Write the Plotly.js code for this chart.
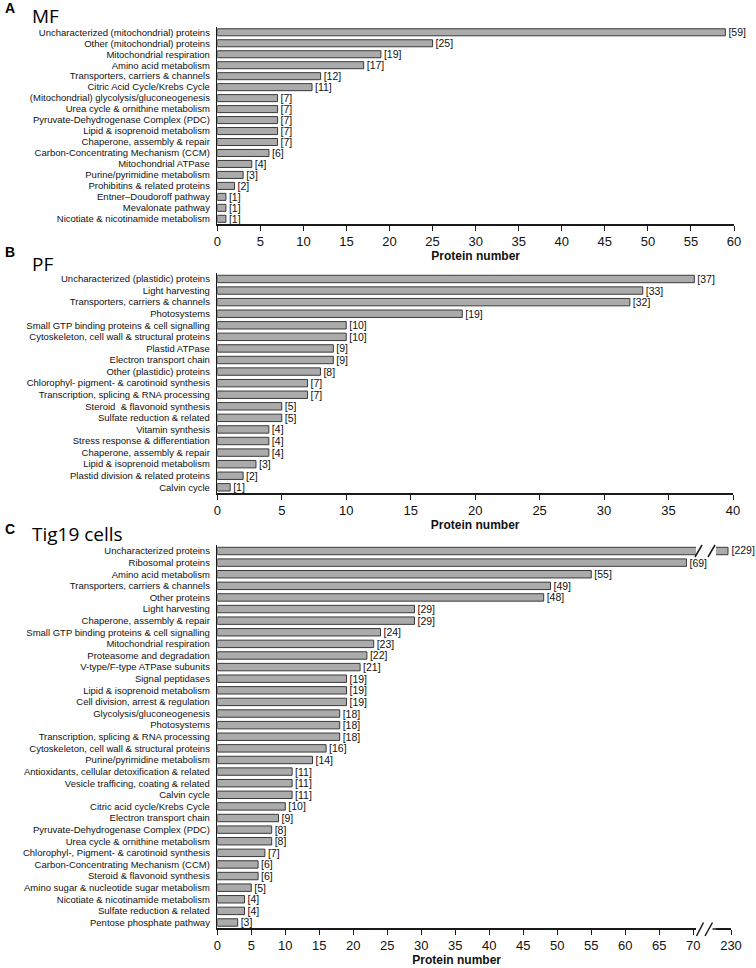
<!DOCTYPE html>
<html><head><meta charset="utf-8">
<script src="https://cdn.plot.ly/plotly-3.0.1.min.js"></script>
<style>html,body{margin:0;padding:0;background:#fff}#chart{width:756px;height:968px}</style>
</head><body><div id="chart"></div>
<script>
// ---------- DATA ----------
const catsMF = [
  "Uncharacterized (mitochondrial) proteins","Other (mitochondrial) proteins","Mitochondrial respiration",
  "Amino acid metabolism","Transporters, carriers & channels","Citric Acid Cycle/Krebs Cycle",
  "(Mitochondrial) glycolysis/gluconeogenesis","Urea cycle & ornithine metabolism",
  "Pyruvate-Dehydrogenase Complex (PDC)","Lipid & isoprenoid metabolism","Chaperone, assembly & repair",
  "Carbon-Concentrating Mechanism (CCM)","Mitochondrial ATPase","Purine/pyrimidine metabolism",
  "Prohibitins & related proteins","Entner\u2013Doudoroff pathway","Mevalonate pathway",
  "Nicotiate & nicotinamide metabolism"];
const valsMF = [59,25,19,17,12,11,7,7,7,7,7,6,4,3,2,1,1,1];

const catsPF = [
  "Uncharacterized (plastidic) proteins","Light harvesting","Transporters, carriers & channels","Photosystems",
  "Small GTP binding proteins & cell signalling","Cytoskeleton, cell wall & structural proteins","Plastid ATPase",
  "Electron transport chain","Other (plastidic) proteins","Chlorophyl- pigment- & carotinoid synthesis",
  "Transcription, splicing & RNA processing","Steroid  & flavonoid synthesis","Sulfate reduction & related",
  "Vitamin synthesis","Stress response & differentiation","Chaperone, assembly & repair",
  "Lipid & isoprenoid metabolism","Plastid division & related proteins","Calvin cycle"];
const valsPF = [37,33,32,19,10,10,9,9,8,7,7,5,5,4,4,4,3,2,1];

const catsTig = [
  "Uncharacterized proteins","Ribosomal proteins","Amino acid metabolism","Transporters, carriers & channels",
  "Other proteins","Light harvesting","Chaperone, assembly & repair","Small GTP binding proteins & cell signalling",
  "Mitochondrial respiration","Proteasome and degradation","V-type/F-type ATPase subunits","Signal peptidases",
  "Lipid & isoprenoid metabolism","Cell division, arrest & regulation","Glycolysis/gluconeogenesis","Photosystems",
  "Transcription, splicing & RNA processing","Cytoskeleton, cell wall & structural proteins",
  "Purine/pyrimidine metabolism","Antioxidants, cellular detoxification & related",
  "Vesicle trafficing, coating & related","Calvin cycle","Citric acid cycle/Krebs Cycle","Electron transport chain",
  "Pyruvate-Dehydrogenase Complex (PDC)","Urea cycle & ornithine metabolism",
  "Chlorophyl-, Pigment- & carotinoid synthesis","Carbon-Concentrating Mechanism (CCM)",
  "Steroid & flavonoid synthesis","Amino sugar & nucleotide sugar metabolism",
  "Nicotiate & nicotinamide metabolism","Sulfate reduction & related","Pentose phosphate pathway"];
const valsTig = [229,69,55,49,48,29,29,24,23,22,21,19,19,19,18,18,18,16,14,11,11,11,10,9,8,8,7,6,6,5,4,4,3];

const ticksMF = [0,5,10,15,20,25,30,35,40,45,50,55,60];
const ticksPF = [0,5,10,15,20,25,30,35,40];
const ticksTig = [0,5,10,15,20,25,30,35,40,45,50,55,60,65,70];
const ticksTigBreak = [230];
const xTitle = "Protein number";

// ---------- STYLE / LAYOUT HELPERS ----------
const W = 756, H = 968;
const px = x => x / W;
const py = y => 1 - y / H;
const FONT = 'Liberation Sans, Arial, sans-serif';
const TITLEFONT = 'Open Sans, Noto Sans, sans-serif';
const barFill = '#ababab', barLine = '#3a3a3a', axisCol = '#1a1a1a';
const lbl = v => '[' + v + ']';
const BREAK = 70;

function bars(cats, vals, xa, ya, withText, clip) {
  return {
    type: 'bar', orientation: 'h', x: vals, y: cats, xaxis: xa, yaxis: ya,
    marker: {color: barFill, line: {color: barLine, width: 1}},
    text: withText ? vals.map(lbl) : undefined,
    textposition: withText ? 'outside' : 'none',
    constraintext: 'none', cliponaxis: clip,
    textfont: {family: FONT, size: 10.5, color: '#111'},
    hoverinfo: 'x+y', showlegend: false
  };
}

function xAxis(domain, range, tickvals, anchor, withTitle) {
  const a = {
    domain: domain, range: range, anchor: anchor, tickmode: 'array', tickvals: tickvals,
    ticks: 'outside', ticklen: 5, tickwidth: 1, tickcolor: axisCol,
    showline: true, linecolor: axisCol, linewidth: 1.5, showgrid: false, zeroline: false,
    tickfont: {family: FONT, size: 13, color: '#111'}, fixedrange: true
  };
  if (withTitle) a.title = {text: xTitle, font: {family: FONT, size: 12, weight: 'bold', color: '#111'}, standoff: 1};
  return a;
}
function yAxis(domain, cats, anchor) {
  return {
    domain: domain, type: 'category', categoryorder: 'array', categoryarray: cats,
    tickmode: 'array', tickvals: cats, ticktext: cats,
    range: [cats.length - 0.5, -0.5], anchor: anchor,
    showline: true, linecolor: axisCol, linewidth: 1.5, ticks: '', ticklabelstandoff: 4,
    showgrid: false, zeroline: false, tickfont: {family: FONT, size: 9.5, color: '#111'}, fixedrange: true
  };
}

// broken panel C: main part (<= BREAK) and the tail beyond the break
const bigIdx = valsTig.map((v, i) => v > BREAK ? i : -1).filter(i => i >= 0);
const restIdx = valsTig.map((v, i) => v <= BREAK ? i : -1).filter(i => i >= 0);
const bigCats = bigIdx.map(i => catsTig[i]), bigVals = bigIdx.map(i => valsTig[i]);
const restCats = restIdx.map(i => catsTig[i]), restVals = restIdx.map(i => valsTig[i]);

const data = [
  bars(catsMF, valsMF, 'x', 'y', true, false),
  bars(catsPF, valsPF, 'x2', 'y2', true, false),
  bars(restCats, restVals, 'x3', 'y3', true, false),
  bars(bigCats, bigVals, 'x3', 'y3', false, true),
  bars(bigCats, bigVals, 'x4', 'y3', false, true),
  {type: 'scatter', mode: 'markers+text', x: bigVals, y: bigCats, xaxis: 'x4', yaxis: 'y3',
   text: bigVals.map(lbl), textposition: 'middle right', cliponaxis: false,
   marker: {size: 4, color: 'rgba(0,0,0,0)'}, textfont: {family: FONT, size: 10.5, color: '#111'},
   hoverinfo: 'skip', showlegend: false}
];

const L = px(217.3);
const layout = {
  width: W, height: H, margin: {l: 0, r: 0, t: 0, b: 0}, paper_bgcolor: '#fff', plot_bgcolor: 'rgba(0,0,0,0)',
  barmode: 'overlay', bargap: 0.36, showlegend: false,
  xaxis: xAxis([L, px(734)], [0, 60], ticksMF, 'y', true),
  yaxis: yAxis([py(224.3), py(26.8)], catsMF, 'x'),
  xaxis2: xAxis([L, px(733)], [0, 40], ticksPF, 'y2', true),
  yaxis2: yAxis([py(493.1), py(273.2)], catsPF, 'x2'),
  xaxis3: xAxis([L, px(696)], [0, 70.4], ticksTig, 'y3', true),
  yaxis3: yAxis([py(928.3), py(545.2)], catsTig, 'x3'),
  xaxis4: xAxis([px(716), px(731)], [225, 230], ticksTigBreak, 'y3', false),
  annotations: [
    {text: 'A', x: px(3), y: py(8.5), xanchor: 'left', yanchor: 'middle', font: {family: FONT, size: 14, weight: 'bold', color: '#000'}},
    {text: 'MF', x: px(30), y: py(16), xanchor: 'left', yanchor: 'middle', font: {family: TITLEFONT, size: 19, color: '#000'}},
    {text: 'B', x: px(3), y: py(251.5), xanchor: 'left', yanchor: 'middle', font: {family: FONT, size: 14, weight: 'bold', color: '#000'}},
    {text: 'PF', x: px(30), y: py(263.5), xanchor: 'left', yanchor: 'middle', font: {family: TITLEFONT, size: 19, color: '#000'}},
    {text: 'C', x: px(3), y: py(529), xanchor: 'left', yanchor: 'middle', font: {family: FONT, size: 14, weight: 'bold', color: '#000'}},
    {text: 'Tig19 cells', x: px(30), y: py(533.5), xanchor: 'left', yanchor: 'middle', font: {family: TITLEFONT, size: 19, color: '#000'}}
  ].map(a => Object.assign({xref: 'paper', yref: 'paper', showarrow: false}, a)),
  shapes: [
    // break marks on the bar
    {x0: 695, y0: 557, x1: 702, y1: 545}, {x0: 708, y0: 557, x1: 715, y1: 545},
    // break marks on the axis
    {x0: 696.5, y0: 936, x1: 703.5, y1: 922.5}, {x0: 705, y0: 936, x1: 712.5, y1: 922.5},
    // short axis stub after the break
    {x0: 712.5, y0: 929, x1: 716, y1: 929}
  ].map(s => ({type: 'line', xref: 'paper', yref: 'paper', x0: px(s.x0), x1: px(s.x1), y0: py(s.y0), y1: py(s.y1),
               line: {color: axisCol, width: 1.5}}))
};

Plotly.newPlot('chart', data, layout, {displayModeBar: false, staticPlot: true});
</script>
</body></html>
